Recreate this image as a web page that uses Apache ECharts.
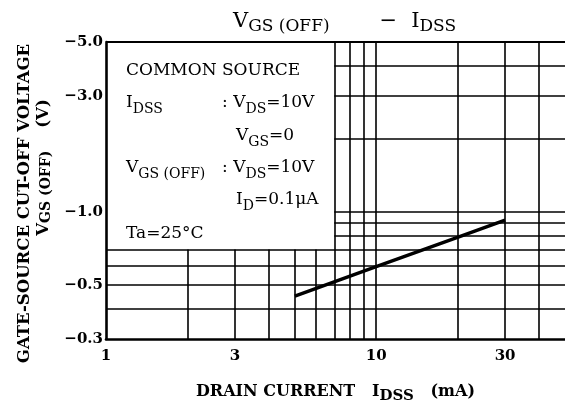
<!DOCTYPE html>
<html>
<head>
<meta charset="utf-8">
<script src="https://cdn.jsdelivr.net/npm/echarts@6/dist/echarts.min.js"></script>
<style>
html, body { margin: 0; padding: 0; background: #fff; }
#chart { width: 565px; height: 405px; }
</style>
</head>
<body>
<div id="chart"></div>
<script>
// curve: IDSS (mA) -> VGS(OFF) (V)
var idss = [5, 10, 20, 30];
var vgsOff = [-0.45, -0.595, -0.785, -0.925];

// tick labels (y shown as negative volts, plotted as magnitude on log paper)
var xTicks = [1, 3, 10, 30];
var yTicks = [0.3, 0.5, 1, 3, 5];

var xRange = [1, 50];
var yRange = [0.3, 5];

// log paper lines; the box with the test conditions hides the upper left part
var boxX = 7, boxY = 0.7;
var xGridFull = [7, 8, 9, 10, 20, 30, 40];
var xGridLow = [2, 3, 4, 5, 6];
var yGridFull = [0.4, 0.5, 0.6, 0.7];
var yGridRight = [0.8, 0.9, 1, 2, 3, 4];

var FONT = '"DejaVu Serif", "Liberation Serif", serif';

var gridLines = [];
xGridFull.forEach(function (v) { gridLines.push({ xAxis: v }); });
xGridLow.forEach(function (v) {
  gridLines.push([{ coord: [v, yRange[0]] }, { coord: [v, boxY] }]);
});
yGridFull.forEach(function (v) { gridLines.push({ yAxis: v }); });
yGridRight.forEach(function (v) {
  gridLines.push([{ coord: [boxX, v] }, { coord: [xRange[1], v] }]);
});
// top frame line
gridLines.push({ yAxis: yRange[1], lineStyle: { width: 2.2 } });

// rich styles for text with subscripts
function richSet(big, small, weight) {
  return {
    m: { fontFamily: FONT, fontSize: big, fontWeight: weight, color: '#000', lineHeight: 26, verticalAlign: 'middle' },
    s: { fontFamily: FONT, fontSize: small, fontWeight: weight, color: '#000', lineHeight: 26, verticalAlign: 'bottom' },
    g: { width: 50 },
    h: { width: 14 }
  };
}

function label(x, y, text) {
  return {
    type: 'text',
    x: x,
    y: y,
    style: { text: text, rich: richSet(17, 14, 'normal'), fill: '#000' }
  };
}

var myChart = echarts.init(document.getElementById('chart'));

var option = {
  animation: false,
  backgroundColor: '#fff',
  title: {
    text: '{m|V}{s|GS (OFF)}{g| }{m|−}{h| }{m|I}{s|DSS}',
    left: 228,
    top: 4,
    textStyle: { rich: richSet(21, 17, 'normal') }
  },
  grid: { left: 106, top: 42, right: 0, bottom: 66, outerBoundsMode: 'none' },
  xAxis: {
    type: 'log',
    logBase: 10,
    min: xRange[0],
    max: xRange[1],
    axisLine: { show: true, lineStyle: { color: '#000', width: 2.6 } },
    axisTick: { show: false },
    splitLine: { show: false },
    axisLabel: {
      customValues: xTicks,
      formatter: function (v) { return String(Math.round(v)); },
      fontFamily: FONT,
      fontWeight: 'bold',
      fontSize: 15,
      color: '#000',
      margin: 10
    },
    name: '{b|DRAIN CURRENT   I}{s|DSS}{b|   (mA)}',
    nameLocation: 'middle',
    nameGap: 41,
    nameTextStyle: {
      rich: {
        b: { fontFamily: FONT, fontSize: 16, fontWeight: 'bold', color: '#000', lineHeight: 24, verticalAlign: 'middle' },
        s: { fontFamily: FONT, fontSize: 15, fontWeight: 'bold', color: '#000', lineHeight: 24, verticalAlign: 'bottom' }
      }
    }
  },
  yAxis: {
    type: 'log',
    logBase: 10,
    min: yRange[0],
    max: yRange[1],
    axisLine: { show: true, lineStyle: { color: '#000', width: 2.6 } },
    axisTick: { show: false },
    splitLine: { show: false },
    axisLabel: {
      customValues: yTicks,
      formatter: function (v) { return '−' + v.toFixed(1); },
      fontFamily: FONT,
      fontWeight: 'bold',
      fontSize: 15,
      color: '#000',
      margin: 3
    },
    name: '{b|GATE-SOURCE CUT-OFF VOLTAGE}{e| }\n{f| }{b|V}{s|GS (OFF)}{b|    (V)}',
    nameLocation: 'middle',
    nameRotate: 90,
    nameGap: 52,
    nameTextStyle: {
      rich: {
        b: { fontFamily: FONT, fontSize: 16.5, fontWeight: 'bold', color: '#000', lineHeight: 19, verticalAlign: 'middle' },
        s: { fontFamily: FONT, fontSize: 14, fontWeight: 'bold', color: '#000', lineHeight: 19, verticalAlign: 'bottom' },
        e: { width: 26 },
        f: { width: 46 }
      }
    }
  },
  graphic: [
    label(126, 58, '{m|COMMON SOURCE}'),
    label(126, 90, '{m|I}{s|DSS}'),
    label(222, 90, '{m|: V}{s|DS}{m|=10V}'),
    label(236, 123, '{m|V}{s|GS}{m|=0}'),
    label(126, 155, '{m|V}{s|GS (OFF)}'),
    label(222, 155, '{m|: V}{s|DS}{m|=10V}'),
    label(236, 187, '{m|I}{s|D}{m|=0.1μA}'),
    label(126, 221, '{m|Ta=25°C}')
  ],
  series: [
    {
      type: 'line',
      data: idss.map(function (x, i) { return [x, Math.abs(vgsOff[i])]; }),
      symbol: 'none',
      lineStyle: { color: '#000', width: 3.4 },
      z: 5,
      markLine: {
        silent: true,
        symbol: ['none', 'none'],
        label: { show: false },
        lineStyle: { color: '#000', width: 1.6, type: 'solid' },
        data: gridLines
      }
    }
  ]
};

myChart.setOption(option);
</script>
</body>
</html>
